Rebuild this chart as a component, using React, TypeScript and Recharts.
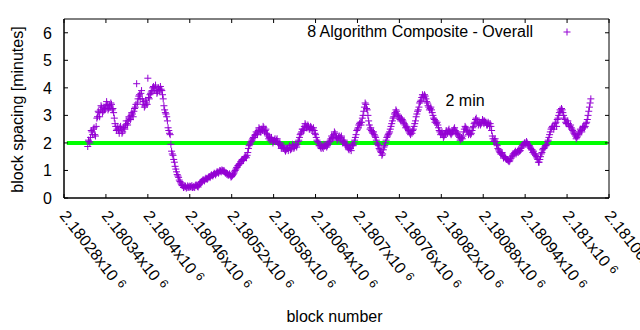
import { ScatterChart, Scatter, XAxis, YAxis, ReferenceLine, ReferenceDot, ReferenceArea, Legend } from "recharts";

// block spacing in minutes; even offsets from firstBlock, then the odd ones in between
const firstBlock = 2180314;
const spacingEven = [
  1.87, 2.05, 2.2, 2.4, 2.5, 2.3, 2.6, 2.95, 3.1, 3.2,
  3.3, 3.15, 3.2, 3.35, 3.4, 3.25, 3.3, 3.4, 3.25, 2.9,
  2.6, 2.5, 2.45, 2.55, 2.5, 2.4, 2.55, 2.65, 2.7, 2.8,
  2.9, 3.0, 3.05, 3.15, 3.3, 4.15, 3.6, 3.75, 3.8, 3.6,
  3.5, 3.35, 3.45, 4.35, 3.6, 3.8, 3.9, 4.05, 4.0, 3.9,
  3.85, 3.95, 4.05, 3.9, 3.6, 3.2, 3.05, 2.8, 2.45, 2.3,
  1.7, 1.55, 1.3, 1.05, 0.85, 0.75, 0.6, 0.5, 0.45, 0.4,
  0.42, 0.38, 0.4, 0.43, 0.4, 0.38, 0.42, 0.45, 0.45, 0.4,
  0.5, 0.58, 0.62, 0.65, 0.68, 0.7, 0.72, 0.78, 0.8, 0.82,
  0.85, 0.88, 0.9, 0.94, 0.95, 0.98, 1.02, 0.98, 0.95, 0.92,
  0.88, 0.85, 0.82, 0.78, 0.85, 0.95, 1.05, 1.12, 1.2, 1.25,
  1.35, 1.4, 1.45, 1.5, 1.55, 1.8, 1.95, 2.05, 2.15, 2.2,
  2.3, 2.35, 2.45, 2.5, 2.4, 2.45, 2.55, 2.45, 2.35, 2.25,
  2.2, 2.15, 2.1, 2.05, 2.15, 2.1, 2.05, 1.95, 1.9, 1.85,
  1.8, 1.75, 1.75, 1.8, 1.85, 1.75, 1.8, 1.9, 1.85, 1.9,
  1.95, 2.1, 2.3, 2.4, 2.5, 2.6, 2.65, 2.55, 2.6, 2.5,
  2.55, 2.5, 2.45, 2.3, 2.1, 2.0, 1.9, 1.8, 1.85, 1.95,
  1.9, 1.85, 1.95, 2.05, 2.15, 2.2, 2.3, 2.35, 2.2, 2.15,
  2.25, 2.2, 2.1, 2.05, 2.0, 1.9, 1.85, 1.75, 1.8, 1.9,
  1.9, 2.1, 2.3, 2.5, 2.65, 2.75, 2.75, 3.0, 3.3, 3.4,
  3.2, 2.8, 2.5, 2.45, 2.35, 2.3, 2.2, 2.0, 1.9, 1.75,
  1.65, 1.6, 1.85, 2.0, 2.2, 2.3, 2.4, 2.6, 2.8, 2.95,
  3.1, 3.15, 3.0, 2.9, 2.8, 2.85, 2.75, 2.65, 2.6, 2.5,
  2.4, 2.3, 2.35, 2.5, 2.7, 2.95, 3.15, 3.3, 3.5, 3.65,
  3.7, 3.75, 3.6, 3.45, 3.3, 3.25, 3.2, 3.0, 2.85, 2.8,
  2.75, 2.55, 2.4, 2.35, 2.3, 2.25, 2.35, 2.4, 2.45, 2.4,
  2.3, 2.4, 2.5, 2.45, 2.4, 2.3, 2.2, 2.15, 2.15, 2.4,
  2.6, 2.5, 2.4, 2.35, 2.3, 2.45, 2.6, 2.75, 2.9, 2.8,
  2.7, 2.65, 2.75, 2.8, 2.8, 2.75, 2.65, 2.7, 2.7, 2.45,
  2.15, 2.1, 2.05, 1.9, 1.75, 1.65, 1.6, 1.55, 1.5, 1.45,
  1.4, 1.35, 1.35, 1.45, 1.55, 1.6, 1.7, 1.65, 1.65, 1.7,
  1.8, 1.9, 1.95, 2.0, 2.05, 1.95, 1.9, 1.8, 1.75, 1.7,
  1.6, 1.5, 1.4, 1.3, 1.5, 1.65, 1.8, 1.85, 1.9, 2.05,
  2.2, 2.4, 2.55, 2.6, 2.6, 2.75, 2.85, 3.0, 3.2, 3.25,
  3.1, 2.9, 2.75, 2.7, 2.7, 2.6, 2.55, 2.45, 2.35, 2.25,
  2.2, 2.3, 2.4, 2.45, 2.55, 2.6, 2.6, 2.75, 3.0, 3.3,
  3.6,
];
const spacingOdd = [
  2.1, 2.0, 2.45, 2.3, 2.55, 2.25, 2.9, 3.15, 2.95, 3.35,
  3.1, 3.3, 3.25, 3.5, 3.2, 3.35, 3.45, 3.2, 3.1, 2.7,
  2.45, 2.6, 2.35, 2.6, 2.35, 2.55, 2.5, 2.8, 2.65, 2.95,
  2.85, 3.1, 2.95, 3.25, 3.4, 3.45, 3.7, 3.6, 3.9, 3.4,
  3.3, 3.55, 3.4, 3.65, 3.75, 3.85, 4.0, 3.9, 4.1, 3.8,
  4.0, 3.9, 3.95, 3.75, 3.35, 3.1, 2.95, 2.55, 2.35, 1.95,
  1.6, 1.4, 1.15, 0.95, 0.8, 0.65, 0.55, 0.45, 0.38, 0.45,
  0.36, 0.44, 0.38, 0.41, 0.45, 0.4, 0.38, 0.48, 0.42, 0.46,
  0.55, 0.6, 0.66, 0.62, 0.72, 0.68, 0.76, 0.74, 0.84, 0.8,
  0.9, 0.84, 0.95, 0.9, 1.0, 0.95, 0.99, 1.0, 0.9, 0.86,
  0.82, 0.88, 0.76, 0.82, 0.9, 1.0, 1.1, 1.18, 1.24, 1.32,
  1.4, 1.36, 1.5, 1.46, 1.65, 1.9, 2.0, 2.1, 2.2, 2.28,
  2.4, 2.3, 2.55, 2.4, 2.5, 2.6, 2.4, 2.5, 2.3, 2.15,
  2.1, 2.2, 2.0, 2.1, 2.05, 2.15, 1.95, 2.0, 1.8, 1.9,
  1.85, 1.7, 1.82, 1.72, 1.9, 1.78, 1.95, 1.8, 1.95, 1.85,
  2.05, 2.2, 2.35, 2.5, 2.45, 2.7, 2.55, 2.65, 2.5, 2.6,
  2.45, 2.55, 2.35, 2.2, 2.05, 1.9, 1.85, 1.9, 1.8, 1.88,
  1.95, 1.9, 2.0, 2.1, 2.25, 2.15, 2.4, 2.25, 2.1, 2.2,
  2.15, 2.25, 2.0, 2.1, 1.92, 1.95, 1.78, 1.85, 1.72, 1.95,
  2.0, 2.2, 2.45, 2.55, 2.7, 2.65, 2.9, 3.15, 3.45, 3.25,
  3.0, 2.65, 2.55, 2.4, 2.4, 2.25, 2.1, 1.95, 1.8, 1.7,
  1.55, 1.75, 1.9, 2.1, 2.25, 2.35, 2.5, 2.7, 2.9, 3.05,
  3.2, 3.05, 2.95, 2.85, 2.9, 2.8, 2.7, 2.55, 2.55, 2.45,
  2.35, 2.4, 2.45, 2.6, 2.8, 3.05, 3.2, 3.45, 3.55, 3.75,
  3.65, 3.7, 3.5, 3.35, 3.2, 3.3, 3.1, 2.9, 2.75, 2.7,
  2.65, 2.45, 2.3, 2.4, 2.2, 2.3, 2.45, 2.35, 2.5, 2.35,
  2.35, 2.45, 2.55, 2.35, 2.35, 2.25, 2.1, 2.2, 2.25, 2.5,
  2.55, 2.45, 2.3, 2.4, 2.35, 2.55, 2.7, 2.85, 2.75, 2.65,
  2.75, 2.7, 2.85, 2.7, 2.75, 2.65, 2.75, 2.6, 2.6, 2.25,
  2.05, 2.15, 1.95, 1.8, 1.7, 1.6, 1.65, 1.45, 1.5, 1.4,
  1.38, 1.32, 1.42, 1.5, 1.6, 1.65, 1.6, 1.7, 1.75, 1.72,
  1.85, 1.95, 2.0, 1.95, 2.0, 1.9, 1.85, 1.75, 1.65, 1.6,
  1.55, 1.45, 1.3, 1.4, 1.6, 1.75, 1.8, 1.9, 1.95, 2.1,
  2.3, 2.5, 2.6, 2.5, 2.7, 2.6, 2.9, 3.1, 3.15, 3.2,
  3.0, 2.85, 2.7, 2.8, 2.6, 2.65, 2.5, 2.4, 2.3, 2.15,
  2.25, 2.35, 2.5, 2.4, 2.6, 2.55, 2.7, 2.85, 3.15, 3.45,
];

const xTicks = [
  2180280, 2180340, 2180400, 2180460, 2180520, 2180580, 2180640,
  2180700, 2180760, 2180820, 2180880, 2180940, 2181000, 2181060,
];
const xTickLabels = [
  "2.18028", "2.18034", "2.1804", "2.18046", "2.18052", "2.18058", "2.18064",
  "2.1807", "2.18076", "2.18082", "2.18088", "2.18094", "2.181", "2.18106",
];
const yTicks = [0, 1, 2, 3, 4, 5, 6];
const xDomain = [2180280, 2181060];
const yDomain = [0, 6.5];

const targetMinutes = 2;
const targetFrom = 2180284;
const targetTo = 2181058;
const noteBlock = 2180854;
const noteValue = 3.53;

const PURPLE = "#9400d3";
const GREEN = "#00ff00";
const FONT = "'Liberation Sans', Arial, sans-serif";
const FS = 16;

// layout
const W = 640;
const H = 330;
const MARGIN = { top: 19, right: 31, bottom: 0, left: 0 };
const Y_AXIS_W = 64;
const X_AXIS_H = 132;
const PLOT_W = W - MARGIN.left - MARGIN.right - Y_AXIS_W;
const PLOT_H = H - MARGIN.top - MARGIN.bottom - X_AXIS_H;
const TICK = 4;

const points = [
  ...spacingEven.map((v, i) => ({ block: firstBlock + 2 * i, spacing: v })),
  ...spacingOdd.map((v, i) => ({ block: firstBlock + 2 * i + 1, spacing: v })),
].sort((a, b) => a.block - b.block);

function Cross(p: any) {
  const { cx, cy } = p;
  return (
    <path
      d={`M${cx - 3.5},${cy}H${cx + 3.5}M${cx},${cy - 3.5}V${cy + 3.5}`}
      stroke={PURPLE}
      strokeWidth={1}
      fill="none"
    />
  );
}

function BottomTick({ x, y, payload }: any) {
  const label = xTickLabels[xTicks.indexOf(payload.value)];
  const tx = x - 5;
  const ty = y + 18;
  return (
    <g>
      <line x1={x} y1={y} x2={x} y2={y - TICK} stroke="#000" />
      <line x1={x} y1={y - PLOT_H} x2={x} y2={y - PLOT_H + TICK} stroke="#000" />
      <text x={tx} y={ty} transform={`rotate(52 ${tx} ${ty})`} fontSize={FS} fill="#000">
        {label}x10
        <tspan fontSize={12} dx={5} dy={-4}>6</tspan>
      </text>
    </g>
  );
}

function LeftTick({ x, y, payload }: any) {
  return (
    <g>
      <line x1={x} y1={y} x2={x + TICK} y2={y} stroke="#000" />
      <line x1={x + PLOT_W} y1={y} x2={x + PLOT_W - TICK} y2={y} stroke="#000" />
      <text x={x - 12} y={y} dy={6} textAnchor="end" fontSize={FS} fill="#000">
        {payload.value}
      </text>
    </g>
  );
}

function LegendBox({ payload }: any) {
  const name = payload && payload[0] ? payload[0].value : "";
  return (
    <div style={{ position: "relative", width: 640, height: 24, fontFamily: FONT }}>
      <span style={{ position: "absolute", right: 107, top: 0, fontSize: FS, lineHeight: "24px", color: "#000", whiteSpace: "nowrap" }}>
        {name}
      </span>
      <svg style={{ position: "absolute", left: 562, top: 7 }} width={10} height={10}>
        <path d="M1.5,5H8.5M5,1.5V8.5" stroke={PURPLE} strokeWidth={1} />
      </svg>
    </div>
  );
}

export default function App() {
  return (
    <div style={{ position: "absolute", left: 0, top: 0, width: W, height: H, background: "#fff", fontFamily: FONT }}>
      <ScatterChart width={W} height={H} margin={MARGIN}>
        <XAxis
          dataKey="block"
          type="number"
          domain={xDomain}
          ticks={xTicks}
          interval={0}
          allowDataOverflow
          height={X_AXIS_H}
          tickSize={0}
          tickMargin={0}
          axisLine={{ stroke: "#000" }}
          tickLine={false}
          tick={<BottomTick />}
          label={{
            content: ({ viewBox }: any) => (
              <text x={viewBox.x + viewBox.width / 2 - 2} y={viewBox.y + 124} textAnchor="middle" fontSize={FS} fill="#000">
                block number
              </text>
            ),
          }}
        />
        <YAxis
          dataKey="spacing"
          type="number"
          domain={yDomain}
          ticks={yTicks}
          interval={0}
          allowDataOverflow
          width={Y_AXIS_W}
          tickSize={0}
          tickMargin={0}
          axisLine={{ stroke: "#000" }}
          tickLine={false}
          tick={<LeftTick />}
          label={{
            content: ({ viewBox }: any) => {
              const cx = viewBox.x + 23;
              const cy = viewBox.y + viewBox.height / 2 + 1;
              return (
                <text x={cx} y={cy} transform={`rotate(-90 ${cx} ${cy})`} textAnchor="middle" fontSize={FS} fill="#000">
                  block spacing [minutes]
                </text>
              );
            },
          }}
        />
        <Legend
          layout="horizontal"
          verticalAlign="middle"
          align="center"
          wrapperStyle={{ top: 20, left: 0, width: 640 }}
          content={<LegendBox />}
        />
        <ReferenceArea
          x1={xDomain[0]}
          x2={xDomain[1]}
          y1={yDomain[0]}
          y2={yDomain[1]}
          fill="none"
          stroke="#000"
          strokeWidth={1}
          ifOverflow="visible"
        />
        <Scatter
          name="8 Algorithm Composite - Overall"
          data={points}
          fill={PURPLE}
          shape={<Cross />}
          isAnimationActive={false}
        />
        <ReferenceLine
          segment={[
            { x: targetFrom, y: targetMinutes },
            { x: targetTo, y: targetMinutes },
          ]}
          stroke={GREEN}
          strokeWidth={4}
        />
        <ReferenceDot
          x={noteBlock}
          y={noteValue}
          r={0}
          fill="none"
          stroke="none"
          label={{ value: "2 min", position: "center", fontSize: FS, fill: "#000" }}
        />
      </ScatterChart>
    </div>
  );
}
